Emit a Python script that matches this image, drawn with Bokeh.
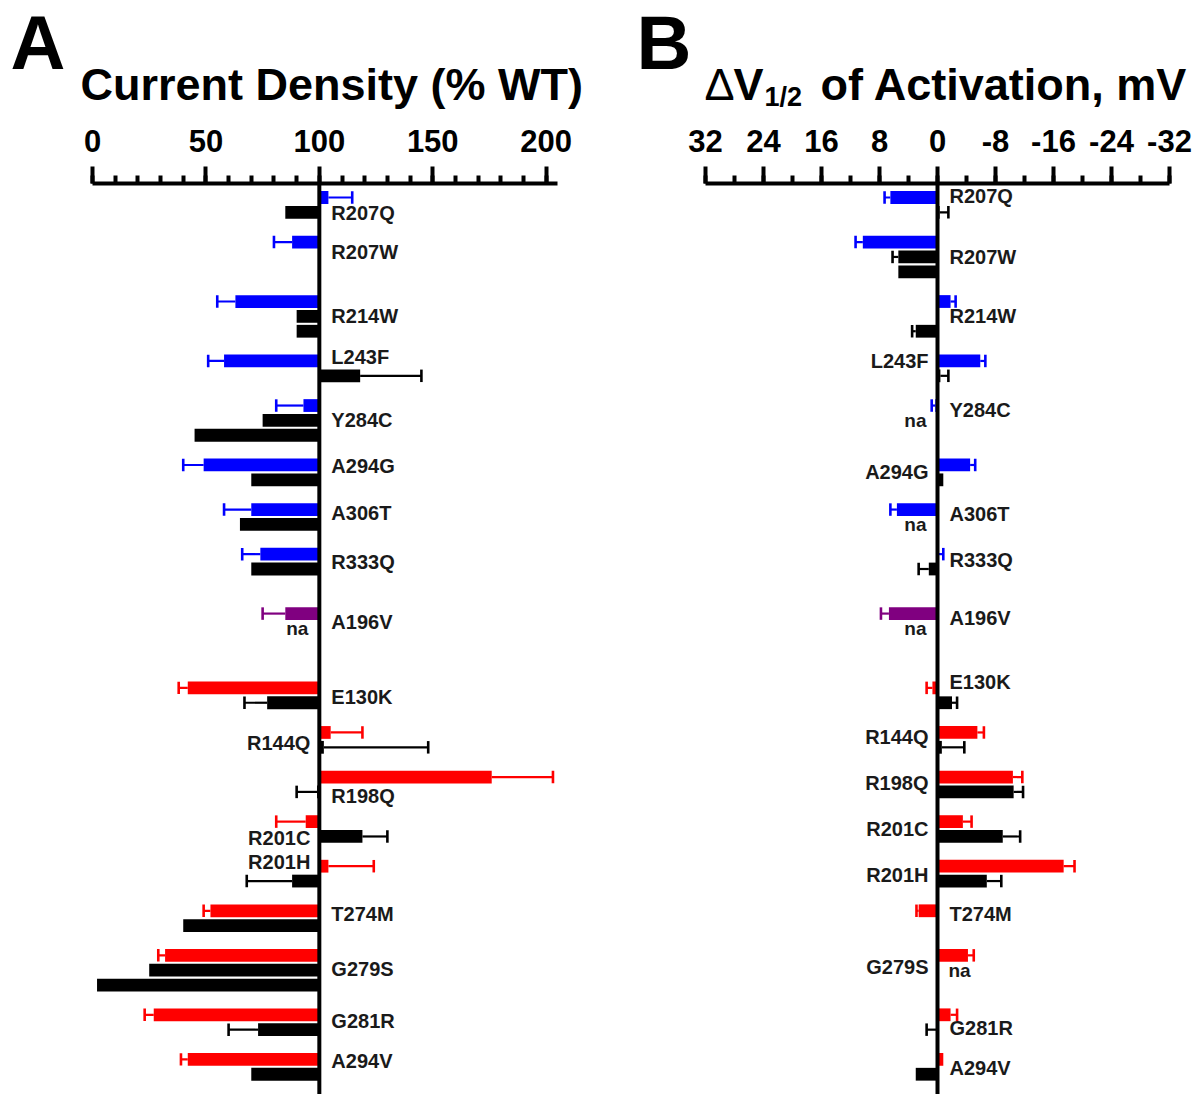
import numpy as np
from bokeh.plotting import figure
from bokeh.models import Range1d, FixedTicker, Span
from bokeh.layouts import row, column
from bokeh.embed import file_html
from bokeh.resources import INLINE
from bokeh.core.properties import value

# ---------------- data ----------------
mutations = ["R207Q", "R207W", "R214W", "L243F", "Y284C", "A294G", "A306T", "R333Q", "A196V",
             "E130K", "R144Q", "R198Q", "R201C", "R201H", "T274M", "G279S", "G281R", "A294V"]
phenotype = ["BFNE"] * 8 + ["BFNE/EE"] + ["EE"] * 9

# Panel A: current density (% WT) - mutant homomer (coloured) and co-expressed (black)
cd_mut = [104, 88, 63, 58, 93, 49, 70, 74, 85, 42, 105, 176, 94, 104, 52, 32, 27, 42]
cd_mut_sem = [10.5, 8, 8, 7, 12, 9, 12, 8, 10, 4, 14, 27, 13, 20, 3, 3, 4, 3]
cd_het = [[85], [None, None], [90, 90], [118], [75, 45], [70], [65], [70], ["na"],
          [77], [102], [99], [119], [88], [40], [25, 2], [73], [70]]
cd_het_sem = [[0], [0, 0], [0, 0], [27], [0, 0], [0], [0], [0], [0],
              [10], [46], [9], [11], [20], [0], [0, 0], [13], [0]]

# Panel B: delta V1/2 of activation (mV)
dv_mut = [6.5, 10.3, -1.8, -5.9, 0.3, -4.5, 5.6, -0.2, 6.7, 0.7, -5.5, -10.4, -3.5, -17.4,
          2.6, -4.2, -1.8, -0.8]
dv_mut_sem = [0.8, 1.0, 0.7, 0.7, 0.5, 0.7, 0.9, 0.6, 1.1, 0.8, 0.9, 1.3, 1.2, 1.5,
              0.3, 0.8, 0.9, 0.0]
dv_het = [[-0.3], [5.4, 5.4], [None, 3.0], [-0.4], ["na", None], [-0.8], ["na"], [1.2], ["na"],
          [-2.0], [-0.6], [-10.5], [-9.0], [-6.8], [None], ["na", None], [0.2], [3.0]]
dv_het_sem = [[1.2], [0.8, 0], [0, 0.5], [1.1], [0, 0], [0], [0], [1.4], [0],
              [0.7], [3.1], [1.3], [2.4], [2.0], [0], [0, 0], [1.3], [0]]

cd_ticks = [0, 50, 100, 150, 200]
dv_ticks = [32, 24, 16, 8, 0, -8, -16, -24, -32]

# ---------------- layout / style ----------------
COLORS = {"BFNE": "#0000FF", "BFNE/EE": "#800080", "EE": "#FF0000"}
HET_COLOR = "#000000"
SECTION_GAP = {("BFNE", "BFNE/EE"): 1, ("BFNE/EE", "EE"): 2}
FONT = "Liberation Sans"

# label vertical offsets (rows) relative to group start, and side
labA_dy = [1.05, 0.65, 1.0, -0.3, 0.95, 0.1, 0.2, 0.5, 0.6, 0.6, 0.7, 1.3, 1.1, -0.3, 0.25, 0.95, 0.45, 0.1]
labA_left = {"R144Q", "R201C", "R201H"}
labB_dy = [-0.1, 1.0, 1.0, 0.0, 0.3, 0.5, 0.3, 0.4, 0.3, -0.4, 0.3, 0.4, 0.5, 0.6, 0.2, 0.8, 0.9, 0.6]
labB_left = {"L243F", "A294G", "R144Q", "R198Q", "R201C", "R201H", "G279S"}

HEAD_H = 114        # header strip (panel letters and titles)
ROW_PX = 14.86      # pixel pitch of one bar row
ROW0_PX = 197       # page y of row 0
FRAME_TOP = 183
FRAME_BOT = 1094
FIG_H = FRAME_BOT - HEAD_H
Y_TOP = (FRAME_TOP - ROW0_PX) / ROW_PX
Y_BOT = (FRAME_BOT - ROW0_PX) / ROW_PX

nrows = [1 + max(len(a), len(b)) for a, b in zip(cd_het, dv_het)]
starts = []
s = 0
for i, n in enumerate(nrows):
    if i > 0:
        s += nrows[i - 1] + 1 + SECTION_GAP.get((phenotype[i - 1], phenotype[i]), 0)
    starts.append(s)


def build(fig_x0, fig_w, frame_l, frame_r, xr, base, ticks, minor_div,
          mut, mut_sem, het, het_sem, lab_dy, lab_left):
    p = figure(width=fig_w, height=FIG_H, x_range=xr, y_range=Range1d(Y_BOT, Y_TOP),
               x_axis_location="above", y_axis_location=None, toolbar_location=None,
               output_backend="svg", min_border_left=frame_l - fig_x0,
               min_border_right=fig_x0 + fig_w - frame_r, min_border_top=FRAME_TOP - HEAD_H,
               min_border_bottom=0)
    p.xgrid.visible = False
    p.ygrid.visible = False
    p.outline_line_color = None
    p.background_fill_color = "white"
    p.border_fill_color = "white"

    step = (ticks[1] - ticks[0]) / minor_div
    minor = list(np.arange(min(ticks), max(ticks) + 0.001, abs(step)))
    ax = p.xaxis[0]
    ax.ticker = FixedTicker(ticks=ticks, minor_ticks=minor)
    ax.major_label_overrides = {t: str(t) for t in ticks}
    ax.axis_line_width = 4
    ax.major_tick_line_width = 4
    ax.major_tick_out = 17
    ax.major_tick_in = 0
    ax.minor_tick_line_width = 4
    ax.minor_tick_out = 8
    ax.minor_tick_in = 0
    ax.major_label_text_font = FONT
    ax.major_label_text_font_style = "bold"
    ax.major_label_text_font_size = "31px"
    ax.major_label_text_color = "black"
    ax.major_label_standoff = 15

    span_dir = 1 if xr.end > xr.start else -1

    def is_left(v):
        return (v - base) * span_dir < 0

    bars = dict(y=[], left=[], right=[], color=[])
    errs = dict(x0=[], x1=[], y=[], color=[])
    na = {True: dict(x=[], y=[]), False: dict(x=[], y=[])}
    for g in range(len(mutations)):
        s0 = starts[g]
        entries = [(mut[g], mut_sem[g], COLORS[phenotype[g]])]
        entries += [(v, e, HET_COLOR) for v, e in zip(het[g], het_sem[g])]
        for k, (v, e, c) in enumerate(entries):
            y = s0 + k
            if v is None:
                continue
            if v == "na":
                side_left = is_left(mut[g])
                na[side_left]["x"].append(base)
                na[side_left]["y"].append(y)
                continue
            bars["y"].append(y)
            bars["left"].append(min(base, v))
            bars["right"].append(max(base, v))
            bars["color"].append(c)
            if e and e > 0:
                d = 1 if v >= base else -1
                errs["x0"].append(v)
                errs["x1"].append(v + d * e)
                errs["y"].append(y)
                errs["color"].append(c)

    p.hbar(y="y", left="left", right="right", height=0.86, fill_color="color",
           line_color=None, source=bars)
    p.segment(x0="x0", y0="y", x1="x1", y1="y", line_color="color", line_width=2.2, source=errs)
    caps = dict(x=errs["x1"], y0=[y - 0.42 for y in errs["y"]], y1=[y + 0.42 for y in errs["y"]],
                color=errs["color"])
    p.segment(x0="x", y0="y0", x1="x", y1="y1", line_color="color", line_width=2.6, source=caps)

    for side_left, src in na.items():
        if src["x"]:
            p.text(x="x", y="y", text=value("na"), source=src,
                   x_offset=-11 if side_left else 11,
                   text_align="right" if side_left else "left", text_baseline="middle",
                   text_font=value(FONT), text_font_style="bold", text_font_size="19px",
                   text_color="#1a1a1a")

    for side_left in (True, False):
        src = dict(x=[], y=[], t=[])
        for g, m in enumerate(mutations):
            if (m in lab_left) == side_left:
                src["x"].append(base)
                src["y"].append(starts[g] + lab_dy[g])
                src["t"].append(m)
        p.text(x="x", y="y", text="t", source=src,
               x_offset=-9 if side_left else 12,
               text_align="right" if side_left else "left", text_baseline="middle",
               text_font=value(FONT), text_font_style="bold", text_font_size="20px",
               text_color="#1a1a1a")

    p.add_layout(Span(location=base, dimension="height", line_color="black", line_width=4))
    return p


# Panel A geometry (page px)
A_FIG_X0, A_FIG_W = 0, 620
A_L, A_R = 92, 557
xrA = Range1d(0, 205)
pA = build(A_FIG_X0, A_FIG_W, A_L, A_R, xrA, 100, cd_ticks, 5,
           cd_mut, cd_mut_sem, cd_het, cd_het_sem, labA_dy, labA_left)

B_FIG_X0 = A_FIG_X0 + A_FIG_W
B_FIG_W = 1200 - B_FIG_X0
B_L, B_R = 705, 1169
xrB = Range1d(32, -32)
pB = build(B_FIG_X0, B_FIG_W, B_L, B_R, xrB, 0, dv_ticks, 2,
           dv_mut, dv_mut_sem, dv_het, dv_het_sem, labB_dy, labB_left)

# ---------------- header strip with panel letters and titles ----------------
head = figure(width=1200, height=HEAD_H, x_range=Range1d(0, 1200), y_range=Range1d(HEAD_H, 0),
              x_axis_location=None, y_axis_location=None, toolbar_location=None,
              output_backend="svg", min_border=0)
head.xgrid.visible = False
head.ygrid.visible = False
head.outline_line_color = None

BASELINE_FIX = 0.37   # empirical shift of the rendered baseline, in em


def htext(x, y, text, size_px, bold=True):
    head.text(x=[x], y=[y - BASELINE_FIX * size_px], text=[text], text_font=value(FONT),
              text_font_size=f"{size_px}px",
              text_font_style="bold" if bold else "normal", text_align="left",
              text_baseline="alphabetic", text_color="black")


htext(10, 70, "A", 76)
htext(80, 101, "Current Density (% WT)", 45)
htext(636, 70, "B", 76)
htext(704, 101, "Δ", 45, bold=False)
htext(733, 101, "V", 45)
htext(764, 106, "1/2", 27)
htext(820, 101, "of Activation, mV", 45)

layout = column(head, row(pA, pB))
open("out.html", "w").write(file_html(layout, INLINE))
